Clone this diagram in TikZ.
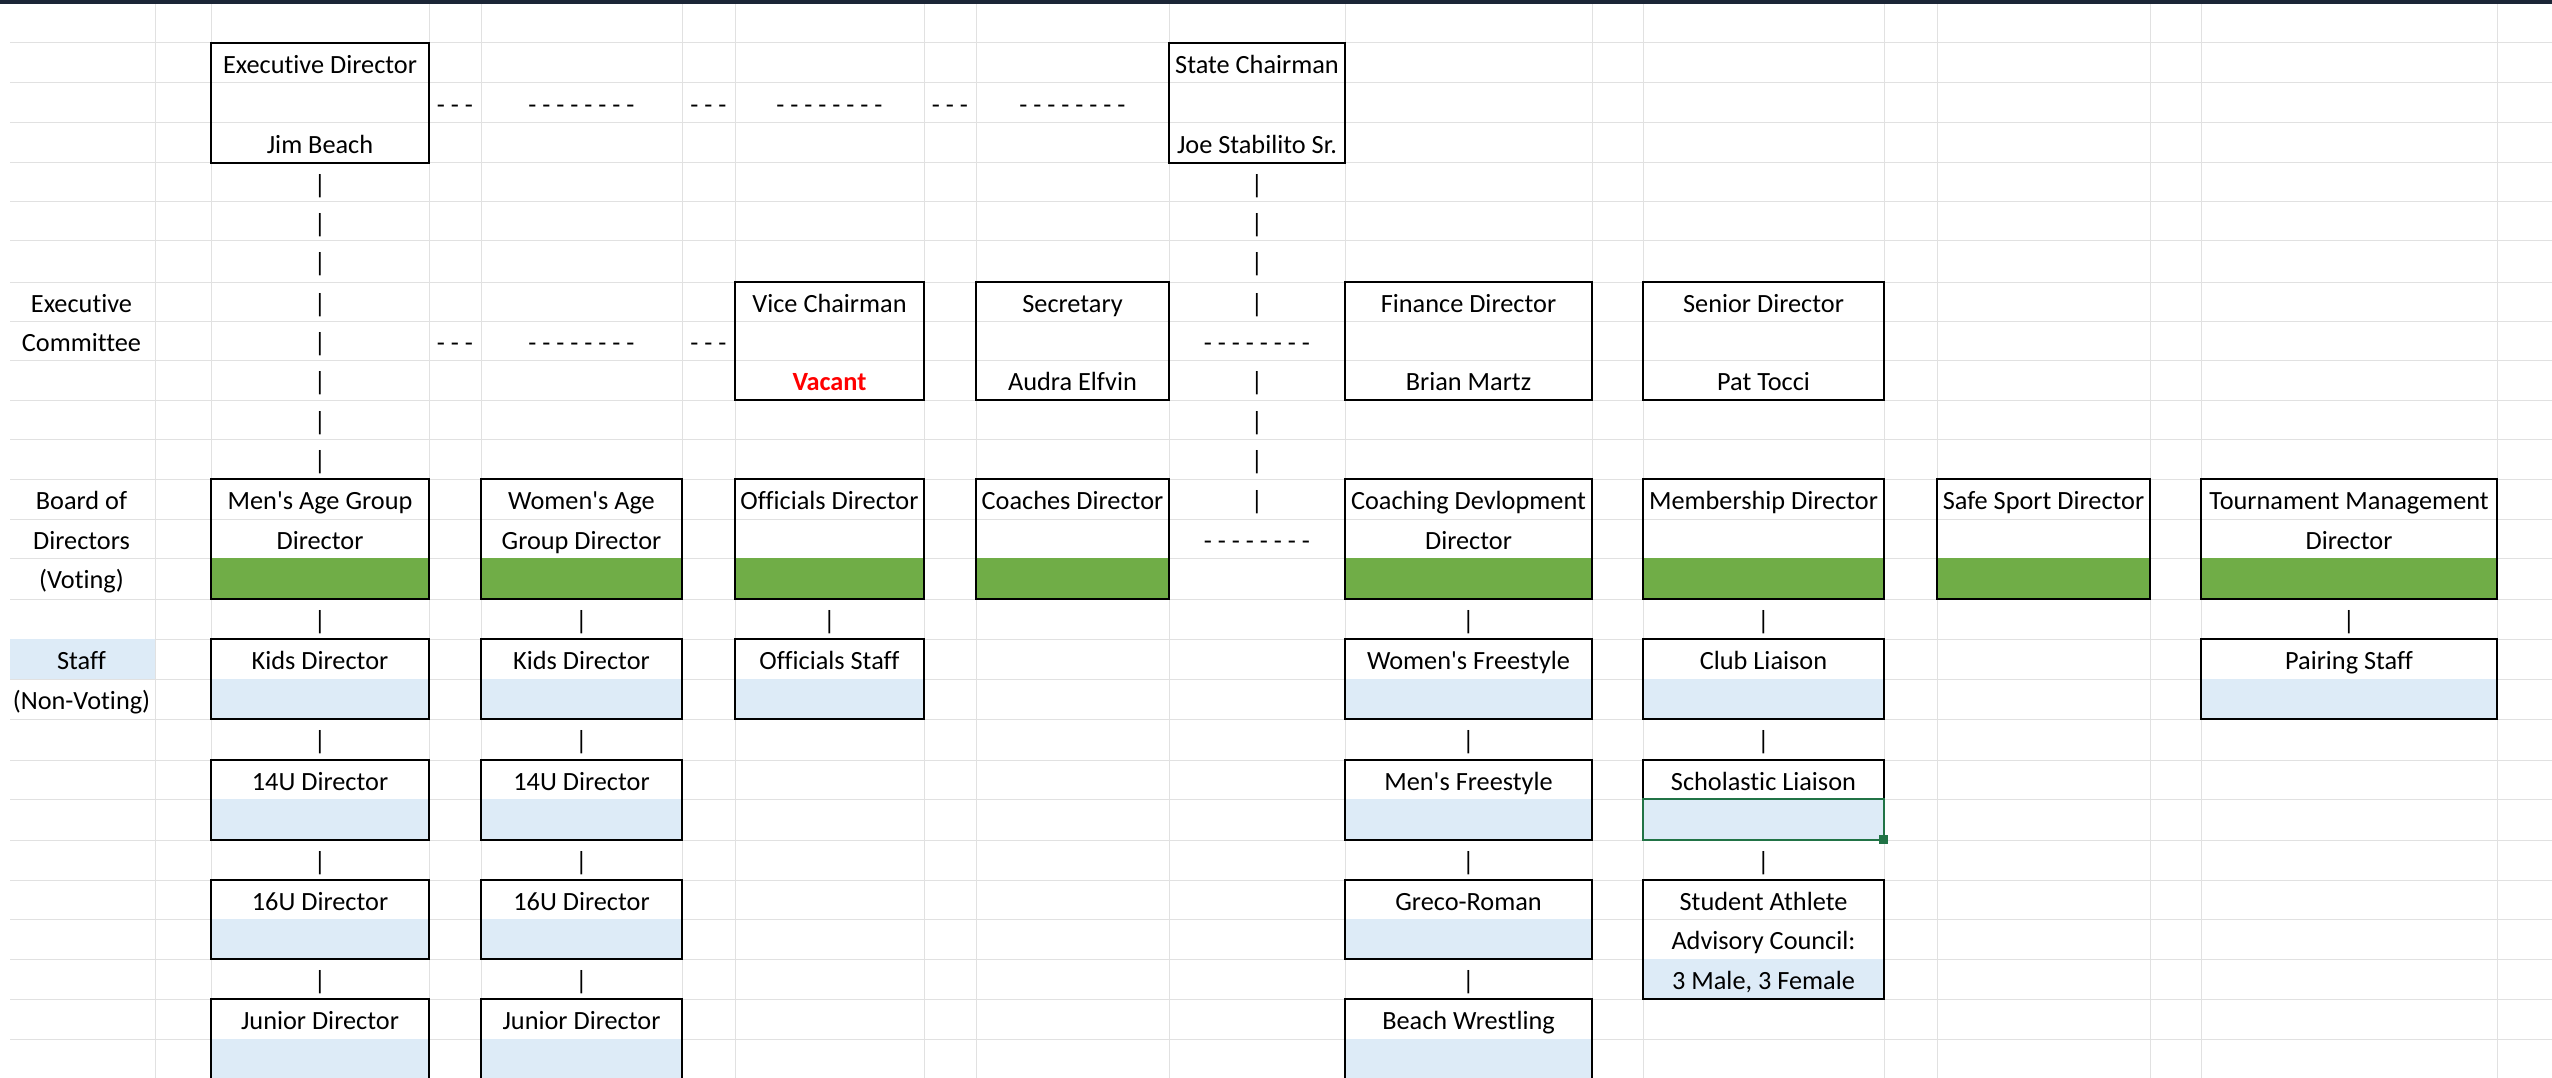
\documentclass[tikz,border=0pt]{standalone}
\usepackage{fontspec}
\setmainfont{Carlito}[Ligatures={NoCommon}]
\usetikzlibrary{fit}
\definecolor{gridc}{RGB}{225,225,225}
\definecolor{boardgreen}{RGB}{112,173,71}
\definecolor{staffblue}{RGB}{221,235,247}
\definecolor{selgreen}{RGB}{33,115,70}
\definecolor{topbar}{RGB}{27,37,54}
\definecolor{vacantred}{RGB}{255,0,0}
\newcommand\cellt[4]{\node[txt] (#1) at (#2,#3) {#4};}
\begin{document}
\begin{tikzpicture}[x=1pt,y=-1pt,
  gridline/.style={draw=gridc,line width=1pt},
  orgbox/.style={draw=black,line width=2pt,inner sep=0pt,rectangle},
  txt/.style={anchor=base,inner sep=0pt,font=\fontsize{26.3}{30}\selectfont,text=black},
  redtxt/.style={txt,text=vacantred,font=\fontsize{26.3}{30}\selectfont\bfseries}]
\useasboundingbox (0,0) rectangle (2552,1078);
\fill[white] (0,0) rectangle (2552,1078);
% grid
\foreach \yy in {43,83,123,163,202,241,282,321,360,400,439,479,519,558,599,639,679,719,760,799,840,880,919,959,999,1039}
  \draw[gridline] (10,\yy) -- (2552,\yy);
\foreach \xx in {155,211,429,481,682,735,924,976,1169,1345,1592,1643,1884,1937,2150,2201,2497}
  \draw[gridline] (\xx,4) -- (\xx,1078);
\fill[topbar] (0,0) rectangle (2552,4.5);
% fills
\fill[staffblue] (10,639) rectangle (155,679);
\foreach \xa/\xb in {211/429,481/682,735/924,976/1169,1345/1592,1643/1884,1937/2150,2201/2497}
  \fill[boardgreen] (\xa,558) rectangle (\xb,599);
\foreach \xa/\xb in {211/429,481/682,735/924,1345/1592,1643/1884,2201/2497}
  \fill[staffblue] (\xa,679) rectangle (\xb,719);
\foreach \xa/\xb in {211/429,481/682,1345/1592,1643/1884}
  \fill[staffblue] (\xa,799) rectangle (\xb,840);
\foreach \xa/\xb in {211/429,481/682,1345/1592}
  \fill[staffblue] (\xa,919) rectangle (\xb,959);
\fill[staffblue] (1643,959) rectangle (1884,999);
\foreach \xa/\xb in {211/429,481/682,1345/1592}
  \fill[staffblue] (\xa,1039) rectangle (\xb,1090);
% boxes
\node[orgbox,fit={(211,43) (429,163)}] (bexec) {};
\node[orgbox,fit={(1169,43) (1345,163)}] (bchair) {};
\node[orgbox,fit={(735,282) (924,400)}] (bvice) {};
\node[orgbox,fit={(976,282) (1169,400)}] (bsec) {};
\node[orgbox,fit={(1345,282) (1592,400)}] (bfin) {};
\node[orgbox,fit={(1643,282) (1884,400)}] (bsen) {};
\node[orgbox,fit={(211,479) (429,599)}] (bmen) {};
\node[orgbox,fit={(481,479) (682,599)}] (bwomen) {};
\node[orgbox,fit={(735,479) (924,599)}] (boff) {};
\node[orgbox,fit={(976,479) (1169,599)}] (bcoach) {};
\node[orgbox,fit={(1345,479) (1592,599)}] (bcdev) {};
\node[orgbox,fit={(1643,479) (1884,599)}] (bmem) {};
\node[orgbox,fit={(1937,479) (2150,599)}] (bsafe) {};
\node[orgbox,fit={(2201,479) (2497,599)}] (btour) {};
\node[orgbox,fit={(211,639) (429,719)}] (bkids1) {};
\node[orgbox,fit={(481,639) (682,719)}] (bkids2) {};
\node[orgbox,fit={(735,639) (924,719)}] (boffst) {};
\node[orgbox,fit={(1345,639) (1592,719)}] (bwfs) {};
\node[orgbox,fit={(1643,639) (1884,719)}] (bclub) {};
\node[orgbox,fit={(2201,639) (2497,719)}] (bpair) {};
\node[orgbox,fit={(211,760) (429,840)}] (bu14a) {};
\node[orgbox,fit={(481,760) (682,840)}] (bu14b) {};
\node[orgbox,fit={(1345,760) (1592,840)}] (bmfs) {};
\node[orgbox,fit={(1643,760) (1884,840)}] (bschol) {};
\node[orgbox,fit={(211,880) (429,959)}] (bu16a) {};
\node[orgbox,fit={(481,880) (682,959)}] (bu16b) {};
\node[orgbox,fit={(1345,880) (1592,959)}] (bgreco) {};
\node[orgbox,fit={(1643,880) (1884,999)}] (bsaac) {};
\node[orgbox,fit={(211,999) (429,1095)}] (bjra) {};
\node[orgbox,fit={(481,999) (682,1095)}] (bjrb) {};
\node[orgbox,fit={(1345,999) (1592,1095)}] (bbeach) {};
% selection
\draw[selgreen,line width=2.5pt] (1643,799) rectangle (1884,840);
\fill[selgreen] (1879,835) rectangle (1888,844);
% texts: labels
\cellt{lexec}{81.5}{312.5}{Executive}
\cellt{lcomm}{81.5}{351.5}{Committee}
\cellt{lboard}{81.5}{509.5}{Board of}
\cellt{ldir}{81.5}{549.5}{Directors}
\cellt{lvot}{81.5}{588.5}{(Voting)}
\cellt{lstaff}{81.5}{669.5}{Staff}
\cellt{lnonvot}{81.5}{709.5}{(Non-Voting)}
% top
\cellt{texec}{320}{73.5}{Executive Director}
\cellt{texecn}{320}{153.5}{Jim Beach}
\cellt{tchair}{1257}{73.5}{State Chairman}
\cellt{tchairn}{1257}{153.5}{Joe Stabilito Sr.}
\cellt{da1}{455}{113.5}{- - -}
\cellt{da2}{581.5}{113.5}{- - - - - - - -}
\cellt{da3}{708.5}{113.5}{- - -}
\cellt{da4}{829.5}{113.5}{- - - - - - - -}
\cellt{da5}{950}{113.5}{- - -}
\cellt{da6}{1072.5}{113.5}{- - - - - - - -}
% executive committee
\cellt{tvice}{829.5}{312.5}{Vice Chairman}
\node[redtxt] (tvicen) at (829.5,390.5) {Vacant};
\cellt{tsec}{1072.5}{312.5}{Secretary}
\cellt{tsecn}{1072.5}{390.5}{Audra Elfvin}
\cellt{tfin}{1468.5}{312.5}{Finance Director}
\cellt{tfinn}{1468.5}{390.5}{Brian Martz}
\cellt{tsen}{1763.5}{312.5}{Senior Director}
\cellt{tsenn}{1763.5}{390.5}{Pat Tocci}
\cellt{db1}{455}{351.5}{- - -}
\cellt{db2}{581.5}{351.5}{- - - - - - - -}
\cellt{db3}{708.5}{351.5}{- - -}
\cellt{db4}{1257}{351.5}{- - - - - - - -}
\cellt{db5}{1257}{549.5}{- - - - - - - -}
% pipes
\foreach \yy [count=\i] in {193.5,232.5,271.5,312.5,351.5,390.5,430.5,469.5}
  \node[txt] (pc\i) at (320,\yy) {|};
\foreach \yy [count=\i] in {193.5,232.5,271.5,312.5,390.5,430.5,469.5,509.5}
  \node[txt] (pj\i) at (1257,\yy) {|};
\foreach \xx [count=\i] in {320,581.5,829.5,1468.5,1763.5,2349}
  \node[txt] (pr\i) at (\xx,629.5) {|};
\foreach \xx [count=\i] in {320,581.5,1468.5,1763.5}
  \node[txt] (ps\i) at (\xx,749.5) {|};
\foreach \xx [count=\i] in {320,581.5,1468.5,1763.5}
  \node[txt] (pt\i) at (\xx,870.5) {|};
\foreach \xx [count=\i] in {320,581.5,1468.5}
  \node[txt] (pu\i) at (\xx,989.5) {|};
% board
\cellt{tmen}{320}{509.5}{Men\textquotesingle s Age Group}
\cellt{tmen2}{320}{549.5}{Director}
\cellt{twomen}{581.5}{509.5}{Women\textquotesingle s Age}
\cellt{twomen2}{581.5}{549.5}{Group Director}
\cellt{toff}{829.5}{509.5}{Officials Director}
\cellt{tcoach}{1072.5}{509.5}{Coaches Director}
\cellt{tcdev}{1468.5}{509.5}{Coaching Devlopment}
\cellt{tcdev2}{1468.5}{549.5}{Director}
\cellt{tmem}{1763.5}{509.5}{Membership Director}
\cellt{tsafe}{2043.5}{509.5}{Safe Sport Director}
\cellt{ttour}{2349}{509.5}{Tournament Management}
\cellt{ttour2}{2349}{549.5}{Director}
% staff
\cellt{tkids1}{320}{669.5}{Kids Director}
\cellt{tkids2}{581.5}{669.5}{Kids Director}
\cellt{toffst}{829.5}{669.5}{Officials Staff}
\cellt{twfs}{1468.5}{669.5}{Women\textquotesingle s Freestyle}
\cellt{tclub}{1763.5}{669.5}{Club Liaison}
\cellt{tpair}{2349}{669.5}{Pairing Staff}
\cellt{tu14a}{320}{790.5}{14U Director}
\cellt{tu14b}{581.5}{790.5}{14U Director}
\cellt{tmfs}{1468.5}{790.5}{Men\textquotesingle s Freestyle}
\cellt{tschol}{1763.5}{790.5}{Scholastic Liaison}
\cellt{tu16a}{320}{910.5}{16U Director}
\cellt{tu16b}{581.5}{910.5}{16U Director}
\cellt{tgreco}{1468.5}{910.5}{Greco-Roman}
\cellt{tsaac1}{1763.5}{910.5}{Student Athlete}
\cellt{tsaac2}{1763.5}{949.5}{Advisory Council:}
\cellt{tsaac3}{1763.5}{989.5}{3 Male, 3 Female}
\cellt{tjra}{320}{1029.5}{Junior Director}
\cellt{tjrb}{581.5}{1029.5}{Junior Director}
\cellt{tbeach}{1468.5}{1029.5}{Beach Wrestling}
\end{tikzpicture}
\end{document}
